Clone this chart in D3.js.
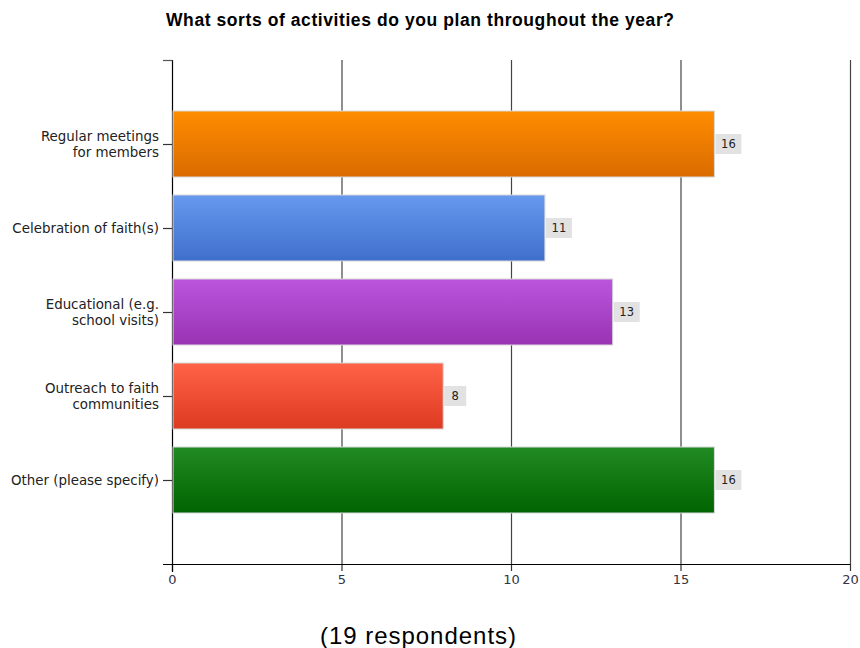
<!DOCTYPE html>
<html><head><meta charset="utf-8">
<script src="https://cdn.jsdelivr.net/npm/d3@7"></script>
<style>body{margin:0;background:#fff}svg{display:block}</style>
</head><body>
<script>
const categories = [["Regular meetings","for members"],["Celebration of faith(s)"],["Educational (e.g.","school visits)"],["Outreach to faith","communities"],["Other (please specify)"]];
const values = [16, 11, 13, 8, 16];
const xTicks = [0, 5, 10, 15, 20];
const colorsTop = ["#ff8c00", "#6699ee", "#bb55dd", "#ff6347", "#228b22"];
const colorsBottom = ["#d96b00", "#3f6fcc", "#9933b3", "#dd3a22", "#006400"];
const title = "What sorts of activities do you plan throughout the year?";
const footer = "(19 respondents)";

const W = 860, H = 648;
const svg = d3.select("body").append("svg").attr("width", W).attr("height", H);
const L = 172, R = 850, T = 60, B = 564;
const x = d3.scaleLinear().domain([0, 20]).range([L, R]);
const y = d3.scalePoint().domain(d3.range(values.length)).range([T, B]).padding(1);
const barH = 66;

const defs = svg.append("defs");
values.forEach((v, i) => {
  const g = defs.append("linearGradient").attr("id", "g" + i).attr("x1", 0).attr("y1", 0).attr("x2", 0).attr("y2", 1);
  g.append("stop").attr("offset", "0%").attr("stop-color", colorsTop[i]);
  g.append("stop").attr("offset", "100%").attr("stop-color", colorsBottom[i]);
});

svg.append("text").attr("x", 420).attr("y", 26).attr("text-anchor", "middle")
  .attr("font-family", "Arial, 'Liberation Sans', sans-serif").attr("font-weight", "bold")
  .attr("font-size", 17.5).attr("fill", "#000")
  .attr("textLength", 508).attr("lengthAdjust", "spacing").text(title);

// gridlines
svg.append("g").selectAll("line").data(xTicks.slice(1)).join("line")
  .attr("x1", d => x(d) + 0.5).attr("x2", d => x(d) + 0.5)
  .attr("y1", T).attr("y2", B).attr("stroke", "#444").attr("stroke-width", 1.2);

// x axis
const xa = svg.append("g").attr("transform", `translate(0,${B})`)
  .call(d3.axisBottom(x).tickValues(xTicks).tickSize(7).tickPadding(4));
xa.select(".domain").remove();
xa.selectAll(".tick line").attr("stroke", "#333").attr("stroke-width", 1.2);
xa.selectAll(".tick text").attr("font-family", "'DejaVu Sans', Verdana, sans-serif").attr("font-size", 13).attr("fill", "#334");
svg.append("line").attr("x1", 163).attr("x2", R).attr("y1", B + 0.5).attr("y2", B + 0.5).attr("stroke", "#000").attr("stroke-width", 1.2);

// y axis
svg.append("line").attr("x1", L + 0.5).attr("x2", L + 0.5).attr("y1", T).attr("y2", B + 8).attr("stroke", "#000").attr("stroke-width", 1.2);
svg.append("line").attr("x1", 163).attr("x2", L + 0.5).attr("y1", T + 0.5).attr("y2", T + 0.5).attr("stroke", "#555").attr("stroke-width", 1.2);
svg.append("g").selectAll("line").data(values).join("line")
  .attr("x1", 163).attr("x2", L).attr("y1", (d, i) => Math.round(y(i)) + 0.5).attr("y2", (d, i) => Math.round(y(i)) + 0.5)
  .attr("stroke", "#333").attr("stroke-width", 1.2);

// category labels
const lab = svg.append("g").selectAll("text").data(categories).join("text")
  .attr("text-anchor", "end").attr("font-family", "'DejaVu Sans', Verdana, sans-serif")
  .attr("font-size", 13.4).attr("fill", "#222");
lab.each(function (lines, i) {
  const t = d3.select(this);
  const cy = y(i);
  const start = cy + 4.5 - (lines.length - 1) * 8;
  lines.forEach((s, k) => t.append("tspan").attr("x", 159).attr("y", start + k * 16).text(s));
});

// bars
svg.append("g").selectAll("rect").data(values).join("rect")
  .attr("x", L + 1).attr("y", (d, i) => y(i) - barH / 2)
  .attr("width", d => x(d) - L - 1).attr("height", barH)
  .attr("fill", (d, i) => `url(#g${i})`).attr("stroke", "#d8d8d8").attr("stroke-width", 1);

// value labels
const vg = svg.append("g").selectAll("g").data(values).join("g")
  .attr("transform", (d, i) => `translate(${x(d) + 1},${y(i) - 10})`);
vg.append("rect").attr("width", d => String(d).length > 1 ? 26 : 22).attr("height", 20).attr("fill", "#e2e2e2");
vg.append("text").attr("x", d => String(d).length > 1 ? 13 : 11).attr("y", 14).attr("text-anchor", "middle")
  .attr("font-family", "'DejaVu Sans', Verdana, sans-serif").attr("font-size", 11.5).attr("fill", "#222").text(d => d);

svg.append("text").attr("x", 418).attr("y", 644).attr("text-anchor", "middle")
  .attr("font-family", "Arial, 'Liberation Sans', sans-serif").attr("font-size", 24).attr("fill", "#000")
  .attr("textLength", 196).attr("lengthAdjust", "spacing").text(footer);
</script>
</body></html>
